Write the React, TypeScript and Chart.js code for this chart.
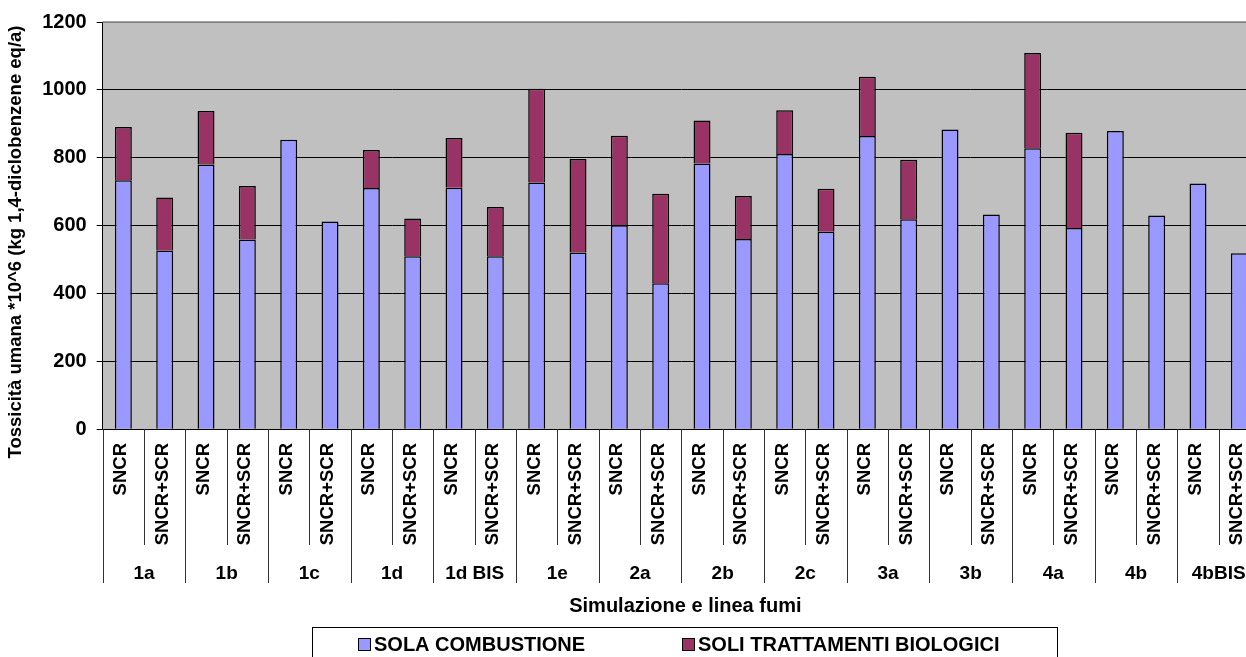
import { useEffect, useRef } from 'react';
import { Chart, registerables } from 'chart.js';

Chart.register(...registerables);

// Simulations (groups) and flue-gas treatment lines (sub-categories)
const groups = ['1a', '1b', '1c', '1d', '1d BIS', '1e', '2a', '2b', '2c', '3a', '3b', '4a', '4b', '4bBIS'];
const lines = ['SNCR', 'SNCR+SCR'];

// Human toxicity contributions, one value per group/line pair
const solaCombustione = [
  734, 527, 780, 559, 853, 612, 711, 510, 712, 510, 727, 521, 601, 430,
  783, 561, 811, 582, 864, 619, 883, 633, 828, 593, 879, 630, 724, 519,
];
const soliTrattamentiBiologici = [
  157, 156, 158, 158, 0, 0, 112, 111, 146, 145, 276, 275, 264, 264,
  127, 126, 129, 127, 175, 175, 0, 0, 281, 281, 0, 0, 0, 0,
];

const seriesNames = ['SOLA COMBUSTIONE', 'SOLI TRATTAMENTI BIOLOGICI'];
const seriesColors = ['#9999FF', '#993366'];

const yTitle = 'Tossicità umana *10^6 (kg 1,4-diclobenzene eq/a)';
const xTitle = 'Simulazione e linea fumi';
const yMax = 1200;
const yStep = 200;

const FAMILY = '"Liberation Sans", Arial, Helvetica, sans-serif';

export default function App() {
  const canvasRef = useRef<HTMLCanvasElement | null>(null);

  useEffect(() => {
    const canvas = canvasRef.current;
    if (!canvas) return;

    const labels = groups.flatMap((g) => lines.map((l) => `${g} ${l}`));

    const decor = {
      id: 'decor',
      beforeDraw(chart: any) {
        const { ctx, chartArea: a } = chart;
        ctx.save();
        ctx.fillStyle = '#C0C0C0';
        ctx.fillRect(a.left, a.top, a.right - a.left, a.bottom - a.top);
        ctx.restore();
      },
      afterDraw(chart: any) {
        const { ctx, chartArea: a } = chart;
        const xs = chart.scales.x;
        const n = labels.length;
        ctx.save();

        // plot frame top edge
        ctx.strokeStyle = '#808080';
        ctx.lineWidth = 1.5;
        ctx.beginPath();
        ctx.moveTo(a.left, a.top);
        ctx.lineTo(a.right, a.top);
        ctx.stroke();

        // category separators below the axis
        ctx.strokeStyle = '#333333';
        ctx.lineWidth = 1;
        for (let i = 0; i <= n; i++) {
          const bx =
            i === 0 ? a.left : i === n ? a.right : (xs.getPixelForValue(i - 1) + xs.getPixelForValue(i)) / 2;
          const isGroup = i % lines.length === 0;
          const px = Math.round(bx) + 0.5;
          ctx.beginPath();
          ctx.moveTo(px, a.bottom);
          ctx.lineTo(px, isGroup ? 583 : 545);
          ctx.stroke();
        }

        ctx.fillStyle = '#000';

        // rotated line labels
        ctx.font = `bold 18.5px ${FAMILY}`;
        ctx.textAlign = 'right';
        ctx.textBaseline = 'middle';
        for (let i = 0; i < n; i++) {
          const cx = xs.getPixelForValue(i);
          ctx.save();
          ctx.translate(cx - 2, 443);
          ctx.rotate(-Math.PI / 2);
          ctx.fillText(lines[i % lines.length], 0, 0);
          ctx.restore();
        }

        // group labels
        ctx.font = `bold 19px ${FAMILY}`;
        ctx.textAlign = 'center';
        groups.forEach((g, gi) => {
          const first = xs.getPixelForValue(gi * lines.length);
          const last = xs.getPixelForValue(gi * lines.length + lines.length - 1);
          ctx.fillText(g, (first + last) / 2, 574);
        });

        // axis titles
        ctx.font = `bold 20px ${FAMILY}`;
        ctx.fillText(xTitle, (a.left + a.right) / 2 + 4, 606);

        ctx.save();
        ctx.font = `bold 18.5px ${FAMILY}`;
        ctx.translate(16, 242);
        ctx.rotate(-Math.PI / 2);
        ctx.fillText(yTitle, 0, 0);
        ctx.restore();

        // legend
        ctx.strokeStyle = '#000';
        ctx.lineWidth = 1;
        ctx.strokeRect(312.5, 627.5, 745, 45);
        const itemX = [358, 682];
        ctx.font = `bold 20px ${FAMILY}`;
        ctx.textAlign = 'left';
        seriesNames.forEach((name, si) => {
          ctx.fillStyle = seriesColors[si];
          ctx.fillRect(itemX[si], 638, 12, 12);
          ctx.strokeRect(itemX[si] + 0.5, 638.5, 12, 12);
          ctx.fillStyle = '#000';
          ctx.fillText(name, itemX[si] + 16, 645);
        });

        ctx.restore();
      },
    };

    const chart = new Chart(canvas, {
      type: 'bar',
      data: {
        labels,
        datasets: [
          {
            label: seriesNames[0],
            data: solaCombustione,
            backgroundColor: seriesColors[0],
            borderColor: '#000',
            borderWidth: 1.5,
          },
          {
            label: seriesNames[1],
            data: soliTrattamentiBiologici,
            backgroundColor: seriesColors[1],
            borderColor: '#000',
            borderWidth: 1.5,
          },
        ],
      },
      options: {
        responsive: false,
        animation: false,
        devicePixelRatio: 1,
        layout: { padding: { left: 0, top: 20, right: 20, bottom: 0 } },
        datasets: { bar: { categoryPercentage: 1, barPercentage: 0.41 } },
        plugins: {
          legend: { display: false },
          tooltip: { enabled: false },
          title: { display: false },
        },
        scales: {
          x: {
            stacked: true,
            ticks: { display: false },
            grid: { display: false },
            border: { display: true, color: '#000', width: 1 },
            afterFit: (scale: any) => {
              scale.height = 227.7;
            },
          },
          y: {
            stacked: true,
            min: 0,
            max: yMax,
            ticks: {
              stepSize: yStep,
              padding: 10,
              color: '#000',
              font: { family: FAMILY, size: 20, weight: 'bold' },
              callback: (v: any) => String(v),
            },
            grid: {
              color: (c: any) => (c.tick && c.tick.value === yMax ? '#808080' : '#000'),
              tickColor: '#000',
              tickLength: 6,
              lineWidth: 1,
            },
            border: { display: true, color: '#000', width: 1 },
            afterFit: (scale: any) => {
              scale.width = 102.7;
            },
          },
        },
      },
      plugins: [decor],
    });

    return () => chart.destroy();
  }, []);

  return (
    <div style={{ position: 'fixed', left: 0, top: 0, width: 1246, height: 657, overflow: 'hidden', background: '#fff' }}>
      <canvas ref={canvasRef} width={1280} height={657} style={{ display: 'block', width: 1280, height: 657 }} />
    </div>
  );
}
